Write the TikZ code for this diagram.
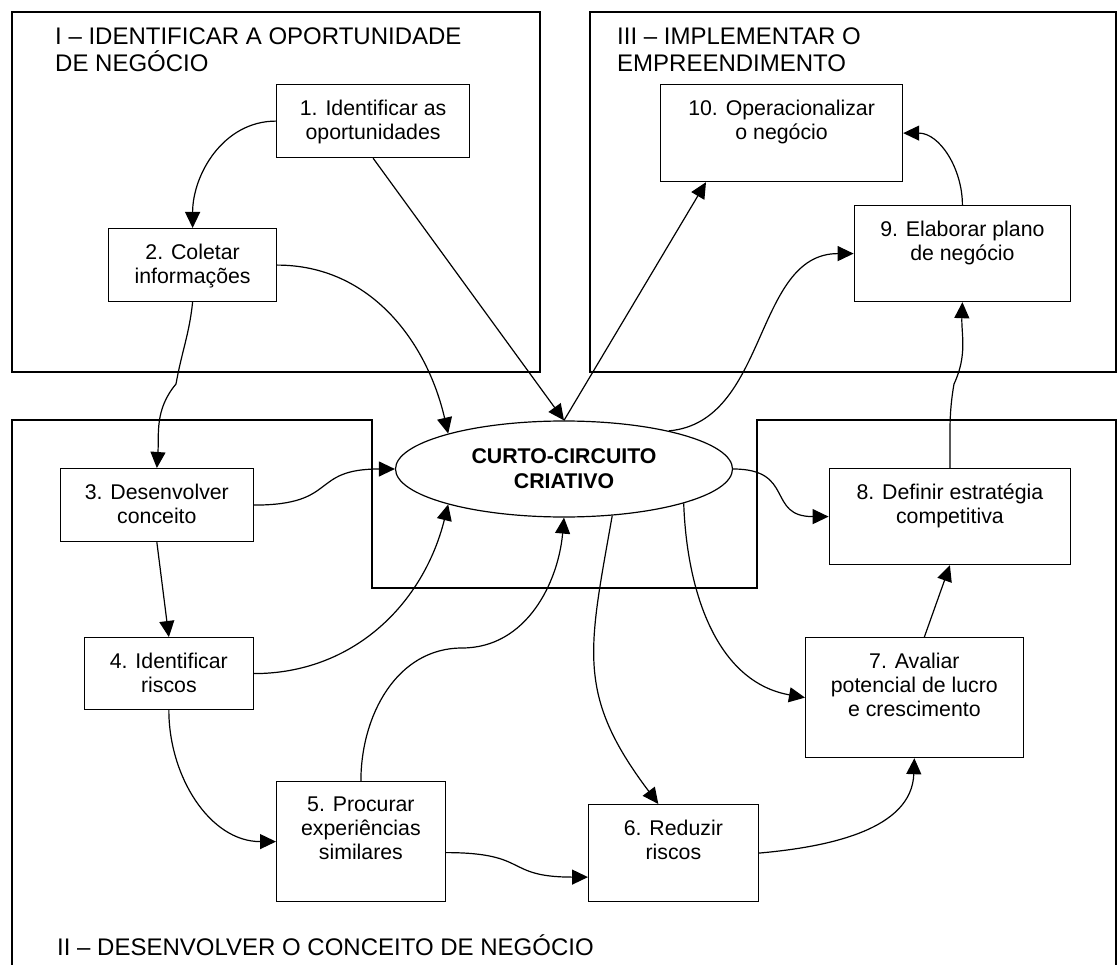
\documentclass[tikz,border=0pt]{standalone}
\usepackage{fontspec}
\setmainfont{Liberation Sans}
\usepackage{tikz}
\usetikzlibrary{arrows.meta,shapes.geometric}

\begin{document}
\begin{tikzpicture}[x=1pt, y=1pt, >={Triangle[length=16pt,width=15pt]},
  stepbox/.style={draw, fill=white, line width=1.2pt, anchor=north west, inner sep=0pt},
  steptext/.style={anchor=north, align=center, inner sep=0pt, yshift=-15.5pt, font=\fontsize{21.3}{24}\selectfont},
  phase/.style={align=left, inner sep=0pt, font=\fontsize{24}{27}\selectfont},
  conn/.style={->, line width=1.2pt}]
\useasboundingbox (0,0) rectangle (1118,-965);
\draw[line width=1.2pt] (12,-12) rectangle (540,-372);
\draw[line width=1.2pt] (590,-12) rectangle (1116,-372);
\draw[line width=1.2pt] (12,-965) -- (12,-420) -- (372,-420) -- (372,-588) -- (757,-588) -- (757,-420) -- (1116,-420) -- (1116,-965);
\node[phase,anchor=north west] (phaseI) at (55,-28) {I – IDENTIFICAR A OPORTUNIDADE\\DE NEGÓCIO};
\node[phase,anchor=north west] (phaseIII) at (617,-28) {III – IMPLEMENTAR O\\EMPREENDIMENTO};
\node[phase,anchor=base west] (phaseII) at (57,-955) {II – DESENVOLVER O CONCEITO DE NEGÓCIO};

\node[stepbox,minimum width=193pt,minimum height=73pt,label={[steptext]north:{1. Identificar as\\oportunidades}}] (s1) at (276,-84) {};
\node[stepbox,minimum width=168pt,minimum height=73pt,label={[steptext]north:{2. Coletar\\informações}}] (s2) at (108,-228) {};
\node[stepbox,minimum width=192.5pt,minimum height=73pt,label={[steptext]north:{3. Desenvolver\\conceito}}] (s3) at (60,-468) {};
\node[stepbox,minimum width=168.5pt,minimum height=72pt,label={[steptext]north:{4. Identificar\\riscos}}] (s4) at (84,-637) {};
\node[stepbox,minimum width=168.6pt,minimum height=120pt,label={[steptext]north:{5. Procurar\\experiências\\similares}}] (s5) at (276,-781) {};
\node[stepbox,minimum width=169.5pt,minimum height=97pt,label={[steptext]north:{6. Reduzir\\riscos}}] (s6) at (588,-804) {};
\node[stepbox,minimum width=217.5pt,minimum height=120pt,label={[steptext]north:{7. Avaliar\\potencial de lucro\\e crescimento}}] (s7) at (805,-637) {};
\node[stepbox,minimum width=241.4pt,minimum height=96pt,label={[steptext]north:{8. Definir estratégia\\competitiva}}] (s8) at (828.6,-468) {};
\node[stepbox,minimum width=216.4pt,minimum height=96pt,label={[steptext]north:{9. Elaborar plano\\de negócio}}] (s9) at (853.6,-205) {};
\node[stepbox,minimum width=242pt,minimum height=97pt,label={[steptext]north:{10. Operacionalizar\\o negócio}}] (s10) at (660,-84) {};
\node[ellipse,draw,fill=white,line width=1.2pt,minimum width=337pt,minimum height=96pt,inner sep=0pt,align=center,font=\fontsize{21.3}{25}\selectfont\bfseries] (cc) at (564,-469) {CURTO-CIRCUITO\\CRIATIVO};

\coordinate (bend23) at (176,-384);
\coordinate (bend5) at (462,-648);
\coordinate (bend89) at (954,-384);
\draw[conn] (s1.west) to[out=180,in=90] (s2.north);
\draw[conn] (s1.south) -- (cc.north);
\draw[conn] (cc.north) -- ([xshift=46pt]s10.south west);
\draw[conn] (s2.east) to[out=0,in=103] (cc.163);
\draw[conn] (s2.south) to[out=-96,in=80] (bend23) to[out=-130,in=86] (s3.north);
\draw[conn] (s3.east) to[out=0,in=180,looseness=1.5] (cc.west);
\draw[conn] (s3.south) -- (s4.north);
\draw[conn] (s4.east) to[out=0,in=-104] (cc.197);
\draw[conn] (s4.south) to[out=-90,in=180] (s5.west);
\draw[conn] (s5.north) to[out=90,in=180] (bend5) to[out=0,in=-95] (cc.south);
\draw[conn] ([yshift=-11pt]s5.east) to[out=0,in=180,looseness=1.5] ([yshift=-24pt]s6.west);
\draw[conn] (cc.-44) to[out=-100,in=127,looseness=1.2] ([xshift=-15pt]s6.north);
\draw[conn] (cc.-16) to[out=-88,in=170] (s7.west);
\draw[conn] (cc.east) to[out=0,in=180,looseness=1.5] (s8.west);
\draw[conn] (s6.east) to[out=5,in=-92] (s7.south);
\draw[conn] ([xshift=10pt]s7.north) -- (s8.south);
\draw[conn] (s8.north) to[out=89,in=-100] (bend89) to[out=65,in=-92] (s9.south);
\draw[conn] (cc.20) to[out=5,in=180] (s9.west);
\draw[conn] (s9.north) to[out=90,in=0] (s10.east);
\end{tikzpicture}
\end{document}
